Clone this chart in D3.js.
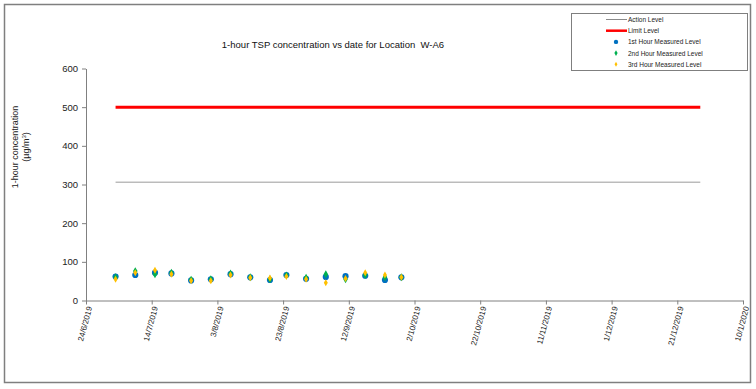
<!DOCTYPE html>
<html>
<head>
<meta charset="utf-8">
<script src="https://cdn.jsdelivr.net/npm/d3@7"></script>
<style>
  body { margin: 0; background: #fff; }
  svg { font-family: "Liberation Sans", Arial, sans-serif; }
</style>
</head>
<body>
<svg id="chart" width="756" height="389"></svg>
<script>
// sampling dates (d/m/yyyy)
var sampleDates = ['3/7/2019', '9/7/2019', '15/7/2019', '20/7/2019', '26/7/2019', '1/8/2019',
  '7/8/2019', '13/8/2019', '19/8/2019', '24/8/2019', '30/8/2019', '5/9/2019',
  '11/9/2019', '17/9/2019', '23/9/2019', '28/9/2019']
var hour1 = [62, 66, 72, 70, 52, 55, 68, 60, 53, 66, 56, 61, 63, 64, 53, 60]
var hour2 = [60, 76, 68, 72, 54, 55, 70, 60, 55, 65, 59, 68, 55, 66, 60, 60]
var hour3 = [55, 72, 78, 68, 51, 51, 66, 59, 58, 62, 55, 46, 57, 72, 66, 60]

var actionLevel = 306
var limitLevel = 500
var levelStart = '3/7/2019'
var levelEnd = '28/12/2019'

var xTicks = ['24/6/2019', '14/7/2019', '3/8/2019', '23/8/2019', '12/9/2019', '2/10/2019',
  '22/10/2019', '11/11/2019', '1/12/2019', '21/12/2019', '10/1/2020']
var yTicks = [0, 100, 200, 300, 400, 500, 600]

var parseDate = d3.timeParse('%-d/%-m/%Y')
var fmtDate = d3.timeFormat('%-d/%-m/%Y')

var svg = d3.select('#chart')

// outer frame
svg.append('rect')
  .attr('x', 4.5).attr('y', 4.5)
  .attr('width', 746).attr('height', 378)
  .attr('fill', 'none')
  .attr('stroke', '#7f7f7f')
  .attr('stroke-width', 1.5)

var plotLeft = 86, plotRight = 743, plotTop = 68.5, plotBottom = 300.5

var x = d3.scaleTime()
  .domain([parseDate(xTicks[0]), parseDate(xTicks[xTicks.length - 1])])
  .range([plotLeft, plotRight])
var y = d3.scaleLinear()
  .domain([0, 600])
  .range([plotBottom, plotTop])

// axes
var xAxis = svg.append('g')
  .attr('transform', 'translate(0,' + plotBottom + ')')
  .call(d3.axisBottom(x)
    .tickValues(xTicks.map(parseDate))
    .tickFormat(fmtDate)
    .tickSize(4)
    .tickSizeOuter(0))
xAxis.select('.domain').attr('stroke', '#808080')
xAxis.selectAll('.tick line').attr('stroke', '#808080')
xAxis.selectAll('.tick text')
  .attr('font-size', 8)
  .attr('fill', '#222')
  .attr('text-anchor', 'end')
  .attr('dy', 0)
  .attr('transform', 'translate(-1,5) rotate(-75)')

var yAxis = svg.append('g')
  .attr('transform', 'translate(' + plotLeft + ',0)')
  .call(d3.axisLeft(y)
    .tickValues(yTicks)
    .tickSize(4)
    .tickSizeOuter(0))
yAxis.select('.domain').attr('stroke', '#808080')
yAxis.selectAll('.tick line').attr('stroke', '#808080')
yAxis.selectAll('.tick text')
  .attr('font-size', 9.5)
  .attr('fill', '#222')
  .attr('x', -8)

// title
svg.append('text')
  .attr('x', 333).attr('y', 48)
  .attr('text-anchor', 'middle')
  .attr('font-size', 9.5)
  .attr('fill', '#111')
  .style('white-space', 'pre')
  .text('1-hour TSP concentration vs date for Location  W-A6')

// y axis title
var yTitle = svg.append('text')
  .attr('transform', 'translate(18,147) rotate(-90)')
  .attr('text-anchor', 'middle')
  .attr('font-size', 9)
  .attr('fill', '#222')
yTitle.append('tspan').attr('x', 0).attr('dy', 0).text('1-hour concentration')
var unit = yTitle.append('tspan').attr('x', 0).attr('dy', 11).text('(µg/m')
unit.append('tspan').attr('font-size', 6).attr('dy', -3).text('3')
unit.append('tspan').attr('dy', 3).text(')')

// level lines
svg.append('line')
  .attr('x1', x(parseDate(levelStart))).attr('x2', x(parseDate(levelEnd)))
  .attr('y1', y(actionLevel)).attr('y2', y(actionLevel))
  .attr('stroke', '#9a9a9a').attr('stroke-width', 1)
svg.append('line')
  .attr('x1', x(parseDate(levelStart))).attr('x2', x(parseDate(levelEnd)))
  .attr('y1', y(limitLevel)).attr('y2', y(limitLevel))
  .attr('stroke', '#ff0000').attr('stroke-width', 3)

// measured points
var series = [
  { name: '1st Hour Measured Level', values: hour1, color: '#0070c0', shape: d3.symbolCircle, size: 30 },
  { name: '2nd Hour Measured Level', values: hour2, color: '#00b050', shape: d3.symbolDiamond, size: 18 },
  { name: '3rd Hour Measured Level', values: hour3, color: '#ffc000', shape: d3.symbolDiamond, size: 14 }
]

series.forEach(function(s) {
  svg.append('g')
    .selectAll('path')
    .data(s.values)
    .enter()
    .append('path')
    .attr('d', d3.symbol().type(s.shape).size(s.size))
    .attr('transform', function(d, i) {
      return 'translate(' + x(parseDate(sampleDates[i])) + ',' + y(d) + ')'
    })
    .attr('fill', s.color)
})

// legend
var legend = svg.append('g')
legend.append('rect')
  .attr('x', 571.5).attr('y', 13.5)
  .attr('width', 176).attr('height', 57)
  .attr('fill', '#fff')
  .attr('stroke', '#7f7f7f')

var legendRows = [
  { name: 'Action Level', type: 'line', color: '#8a8a8a', width: 1 },
  { name: 'Limit Level', type: 'line', color: '#ff0000', width: 2.5 }
].concat(series.map(function(s) { return { name: s.name, type: 'point', s: s } }))

legendRows.forEach(function(r, i) {
  var ly = 19.5 + i * 11.2
  if (r.type === 'line') {
    legend.append('line')
      .attr('x1', 606).attr('x2', 627)
      .attr('y1', ly).attr('y2', ly)
      .attr('stroke', r.color).attr('stroke-width', r.width)
  } else {
    legend.append('path')
      .attr('d', d3.symbol().type(r.s.shape).size(r.s.size * 0.5))
      .attr('transform', 'translate(616,' + ly + ')')
      .attr('fill', r.s.color)
  }
  legend.append('text')
    .attr('x', 628).attr('y', ly + 2.5)
    .attr('font-size', 6.5)
    .attr('fill', '#222')
    .text(r.name)
})
</script>
</body>
</html>
